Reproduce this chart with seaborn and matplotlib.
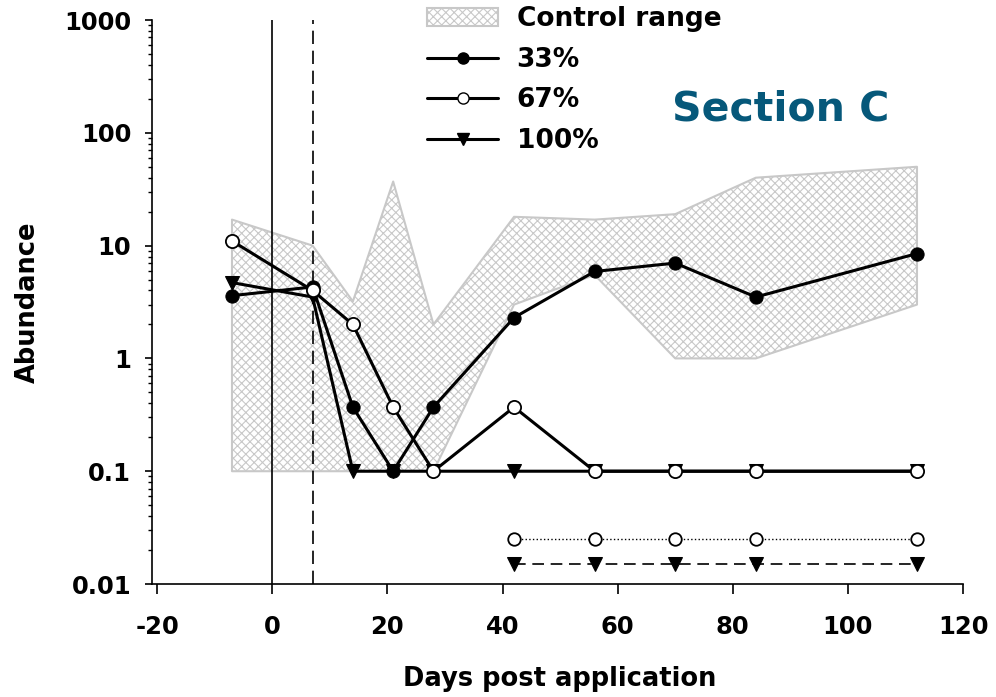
import matplotlib
matplotlib.use('Agg')
import matplotlib.pyplot as plt
import seaborn as sns
from matplotlib.lines import Line2D
from matplotlib.patches import Patch
from matplotlib.ticker import NullFormatter, LogLocator

# sampling days
days = [-7, 7, 14, 21, 28, 42, 56, 70, 84, 112]

# control range (min / max)
ctrl_lo = [0.1, 0.1, 0.1, 0.1, 0.1, 3.0, 5.5, 1.0, 1.0, 3.0]
ctrl_hi = [17, 10, 3.2, 37, 2.0, 18, 17, 19, 40, 50]

# treatments
p33 = [3.6, 4.3, 0.37, 0.1, 0.37, 2.3, 5.9, 7.0, 3.5, 8.5]
p67 = [11, 4.0, 2.0, 0.37, 0.1, 0.37, 0.1, 0.1, 0.1, 0.1]
p100 = [4.7, 3.5, 0.1, 0.1, 0.1, 0.1, 0.1, 0.1, 0.1, 0.1]

# second set, plotted below the others
days_low = [42, 56, 70, 84, 112]
p67_low = [0.025, 0.025, 0.025, 0.025, 0.025]
p100_low = [0.015, 0.015, 0.015, 0.015, 0.015]

yticks = [0.01, 0.1, 1, 10, 100, 1000]
ytick_labels = ['0.01', '0.1', '1', '10', '100', '1000']
xticks = [-20, 0, 20, 40, 60, 80, 100, 120]

sns.set_style('ticks')
plt.rcParams['font.family'] = ['DejaVu Sans']
plt.rcParams['font.weight'] = 'bold'
plt.rcParams['hatch.linewidth'] = 0.8
plt.rcParams['axes.unicode_minus'] = False
for k in ['text.color', 'axes.labelcolor', 'xtick.color', 'ytick.color', 'axes.edgecolor']:
    plt.rcParams[k] = 'black'

fig = plt.figure(figsize=(9.96, 6.97), dpi=100)
ax = fig.add_axes([0.1526, 0.1621, 0.8143, 0.8092])

# control range band
ax.fill_between(days, ctrl_lo, ctrl_hi, facecolor='white', edgecolor='#c8c8c8',
                hatch='xxxx', linewidth=1.5, zorder=1)

# application / reference lines
ax.axvline(0, color='black', lw=1.2, zorder=2)
ax.axvline(7, color='black', lw=1.2, ls=(0, (8, 4)), zorder=2)

lw = 2.2
ms = 9.5
sns.lineplot(x=days, y=p33, ax=ax, color='black', linewidth=lw, marker='o',
             markersize=ms, markerfacecolor='black', markeredgecolor='black', zorder=4)
sns.lineplot(x=days, y=p67, ax=ax, color='black', linewidth=lw, marker='o',
             markersize=ms, markerfacecolor='white', markeredgecolor='black',
             markeredgewidth=1.3, zorder=5)
sns.lineplot(x=days, y=p100, ax=ax, color='black', linewidth=lw, marker='v',
             markersize=ms, markerfacecolor='black', markeredgecolor='black', zorder=4)

sns.lineplot(x=days_low, y=p67_low, ax=ax, color='black', linewidth=1.0, linestyle=':',
             marker='o', markersize=9, markerfacecolor='white', markeredgecolor='black',
             markeredgewidth=1.3, zorder=4)
sns.lineplot(x=days_low, y=p100_low, ax=ax, color='black', linewidth=1.2,
             linestyle=(0, (7, 4)), marker='v', markersize=9.5,
             markerfacecolor='black', markeredgecolor='black', zorder=4)

ax.set_yscale('log')
ax.set_ylim(0.01, 1000)
ax.set_xlim(-20.9, 120)
ax.set_yticks(yticks)
ax.set_yticklabels(ytick_labels)
ax.yaxis.set_minor_locator(LogLocator(base=10, subs=range(2, 10)))
ax.yaxis.set_minor_formatter(NullFormatter())
ax.set_xticks(xticks)

ax.tick_params(axis='y', which='major', length=5, width=1.2, labelsize=17.5, pad=10)
ax.tick_params(axis='y', which='minor', length=3, width=1.0)
ax.tick_params(axis='x', which='major', length=7, width=1.2, labelsize=17.5, pad=15)
for lab in ax.get_xticklabels() + ax.get_yticklabels():
    lab.set_fontweight('bold')

sns.despine(ax=ax)
ax.spines['left'].set_linewidth(1.2)
ax.spines['bottom'].set_linewidth(1.2)

ax.set_xlabel('Days post application', fontsize=18.5, fontweight='bold')
ax.xaxis.set_label_coords(0.503, -0.145)
ax.set_ylabel('Abundance', fontsize=18.5, fontweight='bold')
ax.yaxis.set_label_coords(-0.137, 0.5)

ax.text(0.775, 0.841, 'Section C', transform=ax.transAxes, ha='center', va='center',
        fontsize=29.5, fontweight='bold', color='#06587a')

handles = [
    Patch(facecolor='white', edgecolor='#c8c8c8', hatch='xxxx', linewidth=1.5),
    Line2D([], [], color='black', lw=lw, marker='o', markersize=8,
           markerfacecolor='black', markeredgecolor='black'),
    Line2D([], [], color='black', lw=lw, marker='o', markersize=8,
           markerfacecolor='white', markeredgecolor='black'),
    Line2D([], [], color='black', lw=lw, marker='v', markersize=8,
           markerfacecolor='black', markeredgecolor='black'),
]
labels = ['Control range', '33%', '67%', '100%']
fig.legend(handles, labels, loc='upper left', bbox_to_anchor=(0.418, 1.006),
           frameon=False, handlelength=2.7, handletextpad=0.7,
           labelspacing=0.55, borderaxespad=0.0, prop={'weight': 'bold', 'size': 19})

fig.savefig('out.png', dpi=100)
